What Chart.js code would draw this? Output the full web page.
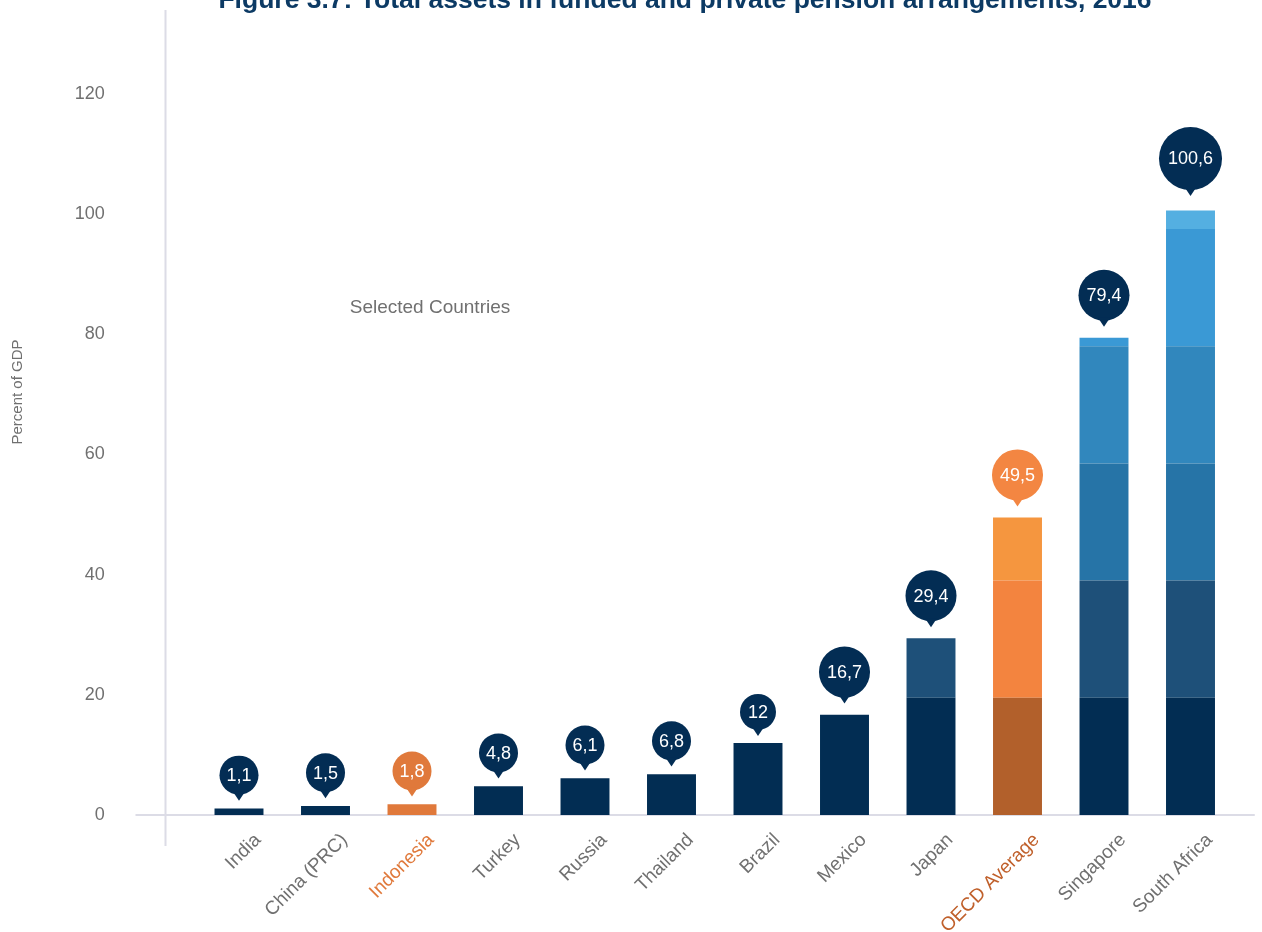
<!DOCTYPE html>
<html>
<head>
<meta charset="utf-8">
<title>Total assets in funded and private pension arrangements</title>
<script src="https://cdn.jsdelivr.net/npm/chart.js@4.4.1/dist/chart.umd.min.js"></script>
<style>
  html, body { margin: 0; padding: 0; background: #fff; }
  #wrap { width: 1262px; height: 932px; position: relative; }
</style>
</head>
<body>
<div id="wrap"><canvas id="pensionChart" width="1262" height="932"></canvas></div>
<script>
const countries = ['India', 'China (PRC)', 'Indonesia', 'Turkey', 'Russia', 'Thailand', 'Brazil', 'Mexico', 'Japan', 'OECD Average', 'Singapore', 'South Africa'];
const assetsPct = [1.1, 1.5, 1.8, 4.8, 6.1, 6.8, 12, 16.7, 29.4, 49.5, 79.4, 100.6];
// colour bands stacked inside each bar (upper edge of each band, % of GDP)
const bandEdges = [19.5, 39, 58.5, 78, 97.5, Infinity];
const yTicks = [0, 20, 40, 60, 80, 100, 120];

const blueBands = ['#022d53', '#1e5079', '#2674a7', '#3187bd', '#3a99d5', '#54afe1'];
const oecdBands = ['#b2602b', '#f3843f', '#f5963f', '#f5963f', '#f5963f', '#f5963f'];
const indonesiaColor = '#e0793b';

const FONT = "'Liberation Sans', Arial, sans-serif";
const GREY = '#707070';

function barColor(i, band) {
    if (countries[i] === 'Indonesia') return indonesiaColor;
    if (countries[i] === 'OECD Average') return oecdBands[band];
    return blueBands[band];
}

function bubbleColor(i) {
    if (countries[i] === 'Indonesia') return indonesiaColor;
    if (countries[i] === 'OECD Average') return '#f38642';
    return '#032d54';
}

function fmt(v) {
    return String(v).replace('.', ',');
}

const datasets = bandEdges.map((top, b) => {
    const low = b === 0 ? 0 : bandEdges[b - 1];
    return {
        label: 'band ' + b,
        data: assetsPct.map(v => Math.max(0, Math.min(v, top) - low)),
        backgroundColor: ctx => barColor(ctx.dataIndex, b),
        borderWidth: 0,
        barPercentage: 0.566,
        categoryPercentage: 1
    };
});

// axis lines, headings and the value balloons
const decorations = {
    id: 'decorations',
    beforeDatasetsDraw(chart) {
        const { ctx, chartArea, scales } = chart;
        const y0 = scales.y.getPixelForValue(0);
        const ax = Math.round(chartArea.left - 31) + 0.5;
        ctx.save();
        ctx.strokeStyle = '#dcdce6';
        ctx.lineWidth = 2;
        ctx.beginPath();
        ctx.moveTo(ax, 10);
        ctx.lineTo(ax, y0 + 31);
        ctx.moveTo(ax - 30, y0);
        ctx.lineTo(chartArea.right + 21, y0);
        ctx.stroke();
        ctx.restore();
    },
    afterDatasetsDraw(chart) {
        const { ctx, scales } = chart;
        ctx.save();
        ctx.font = '18px ' + FONT;
        assetsPct.forEach((v, i) => {
            const x = scales.x.getPixelForValue(i);
            const top = scales.y.getPixelForValue(v);
            const text = fmt(v);
            const w = ctx.measureText(text).width;
            const r = Math.max(18, w * 0.6 + 4.5);
            const tip = top - (0.55 * r - 3);
            const cy = tip - 6 - r;
            ctx.fillStyle = bubbleColor(i);
            ctx.beginPath();
            ctx.arc(x, cy, r, 0, Math.PI * 2);
            ctx.fill();
            ctx.beginPath();
            ctx.moveTo(x - 6, cy + r - 3);
            ctx.lineTo(x + 6, cy + r - 3);
            ctx.lineTo(x, tip);
            ctx.closePath();
            ctx.fill();
            ctx.fillStyle = '#ffffff';
            ctx.textAlign = 'center';
            ctx.textBaseline = 'middle';
            ctx.fillText(text, x, cy + 1);
        });
        ctx.restore();
    },
    afterDraw(chart) {
        const { ctx } = chart;
        ctx.save();
        ctx.fillStyle = '#0c3a64';
        ctx.font = 'bold 26.5px ' + FONT;
        ctx.textAlign = 'center';
        ctx.textBaseline = 'alphabetic';
        ctx.fillText('Figure 3.7: Total assets in funded and private pension arrangements, 2016', 685, 8);

        ctx.fillStyle = GREY;
        ctx.font = '19px ' + FONT;
        ctx.textBaseline = 'middle';
        ctx.fillText('Selected Countries', 430, 308);

        ctx.font = '15px ' + FONT;
        ctx.translate(18, 392);
        ctx.rotate(-Math.PI / 2);
        ctx.fillText('Percent of GDP', 0, 0);
        ctx.restore();
    }
};

new Chart(document.getElementById('pensionChart'), {
    type: 'bar',
    data: { labels: countries, datasets: datasets },
    options: {
        responsive: false,
        animation: false,
        layout: { padding: { top: 85, right: 28.25, bottom: 0, left: 0 } },
        plugins: {
            legend: { display: false },
            tooltip: { enabled: false }
        },
        scales: {
            x: {
                stacked: true,
                grid: { display: false },
                border: { display: false },
                ticks: {
                    minRotation: 45,
                    maxRotation: 45,
                    padding: 6,
                    labelOffset: 19,
                    font: { family: FONT, size: 19 },
                    color: c => {
                        const name = countries[c.index];
                        if (name === 'Indonesia') return indonesiaColor;
                        if (name === 'OECD Average') return '#c0602b';
                        return GREY;
                    }
                },
                afterFit: s => { s.height = 117; }
            },
            y: {
                stacked: true,
                min: yTicks[0],
                max: yTicks[yTicks.length - 1],
                grid: { display: false },
                border: { display: false },
                afterBuildTicks: s => { s.ticks = yTicks.map(v => ({ value: v })); },
                ticks: {
                    padding: 83,
                    font: { family: FONT, size: 18 },
                    color: GREY
                },
                afterFit: s => { s.width = 195.75; }
            }
        }
    },
    plugins: [decorations]
});
</script>
</body>
</html>
